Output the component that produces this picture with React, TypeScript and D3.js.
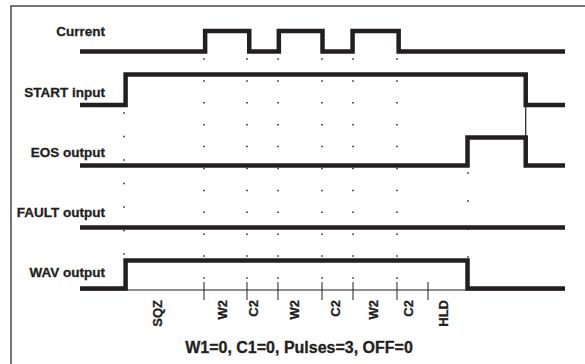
import React, { useEffect } from "react";
import * as d3 from "d3";

// ---- data (time units 0..100) ----
const signalNames = ["Current", "START input", "EOS output", "FAULT output", "WAV output"];
const currentEdges = [25.8, 34.9, 41.0, 50.0, 56.2, 65.7];
const startEdges = [9.4, 91.9];
const eosEdges = [79.9, 91.9];
const faultEdges: number[] = [];
const wavEdges = [9.4, 79.9];
const signalEdges = [currentEdges, startEdges, eosEdges, faultEdges, wavEdges];

const mainDotTimes = [25.57, 34.43, 40.82, 49.9, 56.29, 65.36];
const sqzDotTime = 9.07;
const eosDotTime = 80.0;
const tickTimes = [25.57, 34.43, 40.82, 49.9, 56.29, 65.36, 71.75];
const phaseLabels = ["SQZ", "W2", "C2", "W2", "C2", "W2", "C2", "HLD"];
const phaseLabelTimes = [15.88, 29.28, 35.67, 44.12, 52.58, 60.41, 67.63, 74.85];
const caption = "W1=0, C1=0, Pulses=3, OFF=0";

// ---- layout ----
const W = 585;
const H = 364;
const INK = "#231f20";
const FONT = "'Liberation Sans', Arial, Helvetica, sans-serif";
const rowLowY = [51.5, 105, 165.5, 227.5, 288.5];
const rowHighY = [31, 74.5, 137.5, 200, 260.5];
const labelBaseY = [36, 97, 157, 217, 277];
const axisY = 290;

export default function App() {
  useEffect(() => {
    document.body.style.margin = "0";
    document.body.style.overflow = "hidden";
    document.documentElement.style.overflow = "hidden";
  }, []);

  const x = d3.scaleLinear().domain([0, 100]).range([80, 565]);

  const signalPath = (edges: number[], i: number) => {
    const lv = (l: number) => (l ? rowHighY[i] : rowLowY[i]);
    const pts: [number, number][] = [];
    let level = 0;
    pts.push([x(0), lv(level)]);
    edges.forEach((t) => {
      pts.push([x(t), lv(level)]);
      level = 1 - level;
      pts.push([x(t), lv(level)]);
    });
    pts.push([x(100), lv(level)]);
    return d3.line()(pts) as string;
  };

  const textStyle = {
    fontFamily: FONT,
    fontWeight: "bold" as const,
    fill: INK,
    stroke: INK,
    strokeWidth: 0.3,
  };

  return (
    <svg width={W} height={H} style={{ display: "block", background: "#fff", overflow: "hidden" }}>
      <rect x={0} y={0} width={W} height={H} fill="#fff" />
      <line x1={11} x2={11} y1={6} y2={H} stroke="#4a4a4a" strokeWidth={1.5} />
      <line x1={10.25} x2={W} y1={6} y2={6} stroke="#4a4a4a" strokeWidth={1.5} />

      {/* dotted guide columns */}
      {mainDotTimes.map((t, i) => (
        <line key={"md" + i} x1={x(t)} x2={x(t)} y1={58.25} y2={280} stroke={INK} strokeWidth={1.5} strokeDasharray="1.5 20.4" />
      ))}
      <line x1={x(sqzDotTime)} x2={x(sqzDotTime)} y1={112.25} y2={256} stroke={INK} strokeWidth={1.5} strokeDasharray="1.5 22" />
      <line x1={x(eosDotTime)} x2={x(eosDotTime)} y1={172.25} y2={258} stroke={INK} strokeWidth={1.5} strokeDasharray="1.5 26.5" />

      {/* axis */}
      <line x1={x(0)} x2={x(100)} y1={axisY} y2={axisY} stroke={INK} strokeWidth={1} />
      {tickTimes.map((t, i) => (
        <line key={"tk" + i} x1={x(t)} x2={x(t)} y1={282} y2={300} stroke={INK} strokeWidth={1} />
      ))}

      {/* connector */}
      <line x1={x(startEdges[1])} x2={x(startEdges[1])} y1={rowLowY[1]} y2={rowHighY[2]} stroke={INK} strokeWidth={1.2} />

      {/* signals */}
      {signalEdges.map((e, i) => (
        <path key={"s" + i} d={signalPath(e, i)} fill="none" stroke={INK} strokeWidth={4.5} strokeLinejoin="miter" strokeLinecap="butt" />
      ))}

      {/* signal labels */}
      {signalNames.map((n, i) => (
        <text key={"l" + i} x={105} y={labelBaseY[i]} textAnchor="end" fontSize={13.5} {...textStyle}>
          {n}
        </text>
      ))}

      {/* phase labels */}
      {phaseLabels.map((p, i) => (
        <text
          key={"p" + i}
          transform={`translate(${x(phaseLabelTimes[i])},300) rotate(-90)`}
          textAnchor="end"
          dy="0.35em"
          fontSize={13}
          {...textStyle}
        >
          {p}
        </text>
      ))}

      <text x={299} y={353} textAnchor="middle" fontSize={16} {...textStyle}>
        {caption}
      </text>
    </svg>
  );
}
